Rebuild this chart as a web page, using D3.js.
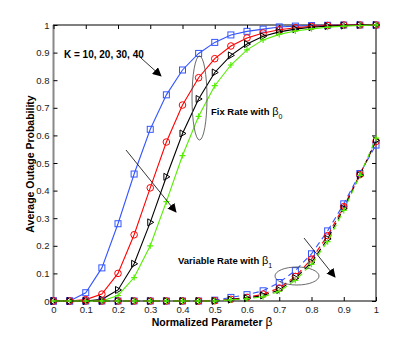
<!DOCTYPE html>
<html>
<head>
<meta charset="utf-8">
<script src="https://cdn.jsdelivr.net/npm/d3@7"></script>
<style>
  body { margin: 0; background: #fff; }
  text { font-family: "Liberation Sans", Arial, sans-serif; }
</style>
</head>
<body>
<svg width="415" height="339"></svg>
<script>
// x values: normalized parameter beta
const beta = [0, 0.05, 0.1, 0.15, 0.2, 0.25, 0.3, 0.35, 0.4, 0.45, 0.5,
  0.55, 0.6, 0.65, 0.7, 0.75, 0.8, 0.85, 0.9, 0.95, 1];

// fixed rate with beta0 (solid)
const fixK10 = [0, 0, 0.03, 0.12, 0.28, 0.46, 0.622, 0.747, 0.837, 0.897, 0.937,
  0.964, 0.977, 0.985, 0.993, 0.996, 0.998, 0.999, 1, 1, 1];
const fixK20 = [0, 0, 0.005, 0.025, 0.1, 0.24, 0.41, 0.576, 0.71, 0.809, 0.878,
  0.924, 0.953, 0.971, 0.983, 0.99, 0.995, 0.998, 1, 1, 1];
const fixK30 = [0, 0, 0, 0.006, 0.04, 0.135, 0.285, 0.45, 0.607, 0.732, 0.828,
  0.89, 0.931, 0.959, 0.975, 0.985, 0.992, 0.996, 0.998, 1, 1];
const fixK40 = [0, 0, 0, 0, 0.02, 0.085, 0.2, 0.36, 0.527, 0.669, 0.78,
  0.855, 0.91, 0.946, 0.966, 0.978, 0.986, 0.992, 0.996, 0.998, 1];

// variable rate with beta1 (dashed)
const varK10 = [0, 0, 0, 0, 0, 0, 0, 0, 0, 0, 0.003,
  0.013, 0.023, 0.037, 0.067, 0.11, 0.171, 0.254, 0.352, 0.462, 0.565];
const varK20 = [0, 0, 0, 0, 0, 0, 0, 0, 0, 0, 0.001,
  0.006, 0.013, 0.025, 0.047, 0.089, 0.152, 0.237, 0.342, 0.458, 0.578];
const varK30 = [0, 0, 0, 0, 0, 0, 0, 0, 0, 0, 0,
  0.005, 0.01, 0.02, 0.04, 0.083, 0.14, 0.225, 0.335, 0.456, 0.582];
const varK40 = [0, 0, 0, 0, 0, 0, 0, 0, 0, 0, 0,
  0.004, 0.008, 0.015, 0.035, 0.075, 0.133, 0.215, 0.328, 0.455, 0.59];

const xTicks = [0, 0.1, 0.2, 0.3, 0.4, 0.5, 0.6, 0.7, 0.8, 0.9, 1];
const yTicks = [0, 0.1, 0.2, 0.3, 0.4, 0.5, 0.6, 0.7, 0.8, 0.9, 1];

const margin = { top: 25, right: 39, bottom: 38, left: 53.5 };
const width = 415;
const height = 339;

const svg = d3.select("svg");

const xScale = d3.scaleLinear()
  .domain([0, 1])
  .range([margin.left, width - margin.right]);
const yScale = d3.scaleLinear()
  .domain([0, 1])
  .range([height - margin.bottom, margin.top]);

// frame
svg.append("rect")
  .attr("x", xScale(0)).attr("y", yScale(1))
  .attr("width", xScale(1) - xScale(0))
  .attr("height", yScale(0) - yScale(1))
  .attr("fill", "none").attr("stroke", "#000").attr("stroke-width", 1);
svg.append("line")
  .attr("x1", xScale(0)).attr("x2", xScale(0))
  .attr("y1", yScale(0)).attr("y2", yScale(1))
  .attr("stroke", "#888").attr("stroke-width", 2);

// axes, ticks pointing inward
const fmt = d => d === 0 || d === 1 ? d3.format("d")(d) : d3.format(".1f")(d);
const xAxis = d3.axisBottom(xScale).tickValues(xTicks).tickSize(-4).tickPadding(5).tickFormat(fmt);
const yAxis = d3.axisLeft(yScale).tickValues(yTicks).tickSize(-4).tickPadding(4).tickFormat(fmt);

function styleAxis(g) {
  g.select(".domain").remove();
  g.selectAll("line").attr("stroke", "#000");
  g.selectAll("text")
    .attr("font-size", 9.5)
    .attr("fill", "#222")
    .attr("font-family", "Liberation Sans, Arial, sans-serif");
}

svg.append("g")
  .attr("transform", `translate(0, ${yScale(0)})`)
  .call(xAxis).call(styleAxis);
svg.append("g")
  .attr("transform", `translate(${xScale(0)}, 0)`)
  .call(yAxis).call(styleAxis);
// mirror ticks top and right
svg.append("g")
  .attr("transform", `translate(0, ${yScale(1)})`)
  .call(d3.axisTop(xScale).tickValues(xTicks).tickSize(-4).tickFormat(""))
  .call(styleAxis);
svg.append("g")
  .attr("transform", `translate(${xScale(1)}, 0)`)
  .call(d3.axisRight(yScale).tickValues(yTicks).tickSize(-4).tickFormat(""))
  .call(styleAxis);

// curves
const series = [
  { values: fixK10, color: "#3355ff", marker: "square", dash: null },
  { values: fixK20, color: "#ff0000", marker: "circle", dash: null },
  { values: fixK30, color: "#000000", marker: "triangle", dash: null },
  { values: fixK40, color: "#55ee00", marker: "plus", dash: null },
  { values: varK10, color: "#3355ff", marker: "square", dash: "6,4" },
  { values: varK20, color: "#ff0000", marker: "circle", dash: "6,4" },
  { values: varK30, color: "#000000", marker: "triangle", dash: "6,4" },
  { values: varK40, color: "#55ee00", marker: "plus", dash: "6,4" }
];

const line = d3.line()
  .x((d, i) => xScale(beta[i]))
  .y(d => yScale(d));

const plot = svg.append("g");

series.forEach(s => {
  plot.append("path")
    .datum(s.values)
    .attr("d", line)
    .attr("fill", "none")
    .attr("stroke", s.color)
    .attr("stroke-width", 1.1)
    .attr("stroke-dasharray", s.dash);

  const marks = plot.append("g")
    .selectAll("g")
    .data(s.values)
    .join("g")
    .attr("transform", (d, i) => `translate(${xScale(beta[i])}, ${yScale(d)})`);

  if (s.marker === "square") {
    marks.append("rect")
      .attr("x", -3).attr("y", -3).attr("width", 6).attr("height", 6)
      .attr("fill", "none").attr("stroke", s.color).attr("stroke-width", 1);
  } else if (s.marker === "circle") {
    marks.append("circle")
      .attr("r", 3.3)
      .attr("fill", "none").attr("stroke", s.color).attr("stroke-width", 1);
  } else if (s.marker === "triangle") {
    marks.append("path")
      .attr("d", "M-2.5,-3.5L3.5,0L-2.5,3.5Z")
      .attr("fill", "none").attr("stroke", s.color).attr("stroke-width", 1);
  } else {
    marks.append("path")
      .attr("d", "M-3,0H3M0,-3V3")
      .attr("stroke", s.color).attr("stroke-width", 1.2);
  }
});

// annotations
const ann = svg.append("g");
svg.append("defs").append("marker")
  .attr("id", "head")
  .attr("viewBox", "0 0 10 10")
  .attr("refX", 9).attr("refY", 5)
  .attr("markerWidth", 9).attr("markerHeight", 9)
  .attr("markerUnits", "userSpaceOnUse")
  .attr("orient", "auto")
  .append("path")
  .attr("d", "M0,0L10,5L0,10Z")
  .attr("fill", "#000");

function arrow(x1, y1, x2, y2) {
  ann.append("line")
    .attr("x1", x1).attr("y1", y1).attr("x2", x2).attr("y2", y2)
    .attr("stroke", "#000").attr("stroke-width", 0.8)
    .attr("marker-end", "url(#head)");
}

ann.append("text")
  .attr("x", 64).attr("y", 58)
  .attr("font-size", 10).attr("font-weight", "bold")
  .text("K = 10, 20, 30, 40");
arrow(141, 58, 161, 76);

ann.append("ellipse")
  .attr("cx", 199.5).attr("cy", 98).attr("rx", 7.5).attr("ry", 42)
  .attr("fill", "none").attr("stroke", "#444").attr("stroke-width", 0.8);
const fixText = ann.append("text")
  .attr("x", 211).attr("y", 115)
  .attr("font-size", 9.5).attr("font-weight", "bold");
fixText.append("tspan").text("Fix Rate with ");
fixText.append("tspan").attr("font-weight", "normal").attr("font-size", 11).text("β");
fixText.append("tspan").attr("dy", 4).attr("font-weight", "normal").attr("font-size", 7).text("0");

arrow(126, 150, 176, 212);

const varText = ann.append("text")
  .attr("x", 178).attr("y", 264)
  .attr("font-size", 9.5).attr("font-weight", "bold");
varText.append("tspan").text("Variable Rate with ");
varText.append("tspan").attr("font-weight", "normal").attr("font-size", 11).text("β");
varText.append("tspan").attr("dy", 4).attr("font-weight", "normal").attr("font-size", 7).text("1");

ann.append("ellipse")
  .attr("cx", 297).attr("cy", 276).attr("rx", 22).attr("ry", 9)
  .attr("fill", "none").attr("stroke", "#444").attr("stroke-width", 0.8);
arrow(304, 238, 335, 277);

// axis titles
const xTitle = svg.append("text")
  .attr("x", 212).attr("y", 326)
  .attr("text-anchor", "middle")
  .attr("font-size", 10.5).attr("font-weight", "bold");
xTitle.append("tspan").text("Normalized Parameter ");
xTitle.append("tspan").attr("font-weight", "normal").attr("font-size", 12).text("β");

svg.append("text")
  .attr("transform", "translate(34, 164) rotate(-90)")
  .attr("text-anchor", "middle")
  .attr("font-size", 10.5).attr("font-weight", "bold")
  .text("Average Outage Probability");
</script>
</body>
</html>
